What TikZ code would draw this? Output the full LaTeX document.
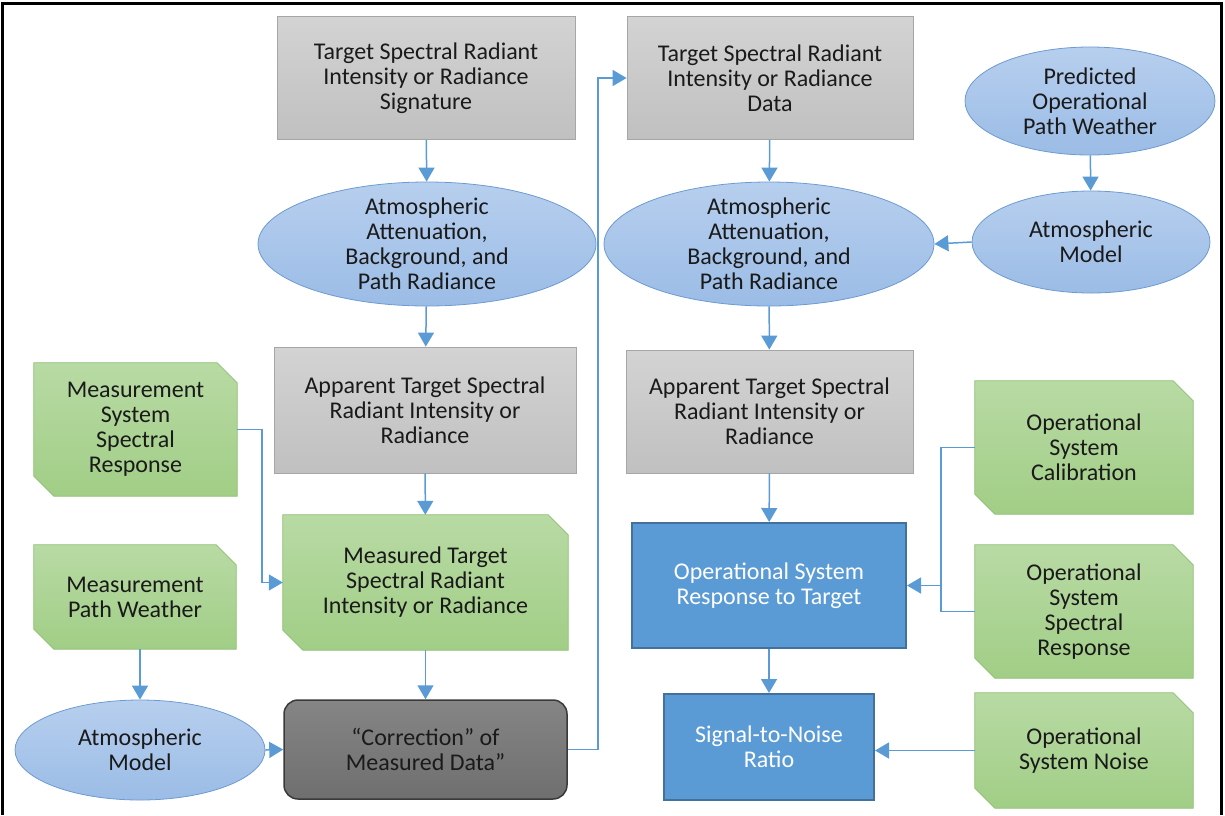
\documentclass[tikz,border=0pt]{standalone}
\usepackage{fontspec}
\setmainfont{Carlito}
\usetikzlibrary{arrows.meta,shapes.geometric,backgrounds,calc}
\definecolor{txt}{HTML}{1A1A1A}
\definecolor{arrowblue}{HTML}{5B9BD5}
\definecolor{graytop}{HTML}{D3D3D3}
\definecolor{graybot}{HTML}{C0C0C0}
\definecolor{grayedge}{HTML}{A6A6A6}
\definecolor{elltop}{HTML}{B7CFEE}
\definecolor{ellbot}{HTML}{9BBCE6}
\definecolor{elledge}{HTML}{6C9BD2}
\definecolor{greentop}{HTML}{B8DAA4}
\definecolor{greenbot}{HTML}{A1CE86}
\definecolor{greenedge}{HTML}{8CBE70}
\definecolor{bluefill}{HTML}{5B9BD5}
\definecolor{blueedge}{HTML}{41719C}
\definecolor{corrtop}{HTML}{858585}
\definecolor{corrbot}{HTML}{6F6F6F}
\definecolor{corredge}{HTML}{3A3A3A}
\begin{document}
\begin{tikzpicture}[x=1pt,y=-1pt,
  every node/.style={font=\fontsize{24}{25}\selectfont, align=center, text=txt},
  sz/.style 2 args={minimum width=#1pt, minimum height=#2pt},
  graybox/.style={rectangle, draw=grayedge, line width=0.8pt, top color=graytop, bottom color=graybot},
  blueell/.style={ellipse, draw=elledge, line width=0.8pt, top color=elltop, bottom color=ellbot, inner sep=-10pt},
  greenbox/.style={rectangle, inner sep=0pt},
  greenshape/.style={draw=greenedge, line width=0.8pt, top color=greentop, bottom color=greenbot},
  bluebox/.style={rectangle, draw=blueedge, line width=2pt, fill=bluefill, text=white},
  corrbox/.style={rectangle, rounded corners=14pt, draw=corredge, line width=1.5pt, top color=corrtop, bottom color=corrbot},
  conn/.style={draw=arrowblue, line width=1.5pt},
  arr/.style={conn, -{Triangle[width=16pt,length=14pt]}}
]
\useasboundingbox (0,0) rectangle (1225,815);
% frame
\draw[line width=3pt, black] (2.5,815) -- (2.5,3.5) -- (1221.5,3.5) -- (1221.5,815);

% left column
\node[graybox, sz={298}{123}] (t1) at (426,78) {Target Spectral Radiant\\Intensity or Radiance\\Signature};
\node[blueell, sz={338}{124}] (e1) at (427,244) {Atmospheric\\Attenuation,\\Background, and\\Path Radiance};
\node[graybox, sz={302}{126}] (a1) at (425,410) {Apparent Target Spectral\\Radiant Intensity or\\Radiance};
\node[greenbox, sz={285}{135}] (meas) at (425.5,582.5) {Measured Target\\Spectral Radiant\\Intensity or Radiance};
\node[corrbox, sz={283}{99}] (corr) at (425.5,749.5) {“Correction” of\\Measured Data”};
\node[greenbox, sz={203}{133}] (mssr) at (135.5,429.5) {Measurement\\System\\Spectral\\Response};
\node[greenbox, sz={202}{104}] (mpw) at (135,597) {Measurement\\Path Weather};
\node[blueell, sz={250}{100}] (am1) at (140,750) {Atmospheric\\Model};

% right column
\node[graybox, sz={286}{123}] (t2) at (770,78) {Target Spectral Radiant\\Intensity or Radiance\\Data};
\node[blueell, sz={330}{124}] (e2) at (769,244) {Atmospheric\\Attenuation,\\Background, and\\Path Radiance};
\node[blueell, sz={250}{108}] (pw) at (1090,101) {Predicted\\Operational\\Path Weather};
\node[blueell, sz={238}{102}] (am2) at (1091,242) {Atmospheric\\Model};
\node[graybox, sz={287}{123}] (a2) at (769.5,411.5) {Apparent Target Spectral\\Radiant Intensity or\\Radiance};
\node[bluebox, sz={274}{125}] (osr) at (769,585.5) {Operational System\\Response to Target};
\node[bluebox, sz={210}{106}] (snr) at (769,747) {Signal-to-Noise\\Ratio};
\node[greenbox, sz={218}{133}] (cal) at (1084,447.5) {Operational\\System\\Calibration};
\node[greenbox, sz={218}{133}] (ossr) at (1084,611.5) {Operational\\System\\Spectral\\Response};
\node[greenbox, sz={218}{115}] (noise) at (1084,750.5) {Operational\\System Noise};

% green snipped shapes
\begin{scope}[on background layer]
\foreach \n in {meas,mssr,mpw,cal,ossr,noise}{
  \path[greenshape] (\n.north west) -- ([xshift=-20pt]\n.north east) -- ([yshift=-20pt]\n.north east)
    -- (\n.south east) -- ([xshift=20pt]\n.south west) -- ([yshift=20pt]\n.south west) -- cycle;
}
\end{scope}

% connectors left
\draw[arr] (t1) -- (e1);
\draw[arr] (e1) -- (a1);
\draw[arr] (a1) -- (meas);
\draw[arr] (meas) -- (corr);
\draw[arr] (mssr.east) -- ++(25,0) |- (meas.west);
\draw[arr] (mpw.south -| am1.north) -- (am1.north);
\draw[arr] (am1.east) -- (corr.west);
\draw[arr] (corr.east) -- ++(30,0) |- (t2.west);

% connectors right
\draw[arr] (t2) -- (e2);
\draw[arr] (pw) -- (am2);
\draw[arr] (am2.west) -- (e2.east);
\draw[arr] (e2) -- (a2);
\draw[arr] (a2) -- (osr);
\draw[arr] (osr) -- (snr);
\draw[conn] (cal.west) -- ++(-34,0) coordinate (jt) |- (ossr.west);
\draw[arr] (jt |- osr.east) -- (osr.east);
\draw[arr] (noise.west) -- (noise.west -| snr.east);
\end{tikzpicture}
\end{document}
